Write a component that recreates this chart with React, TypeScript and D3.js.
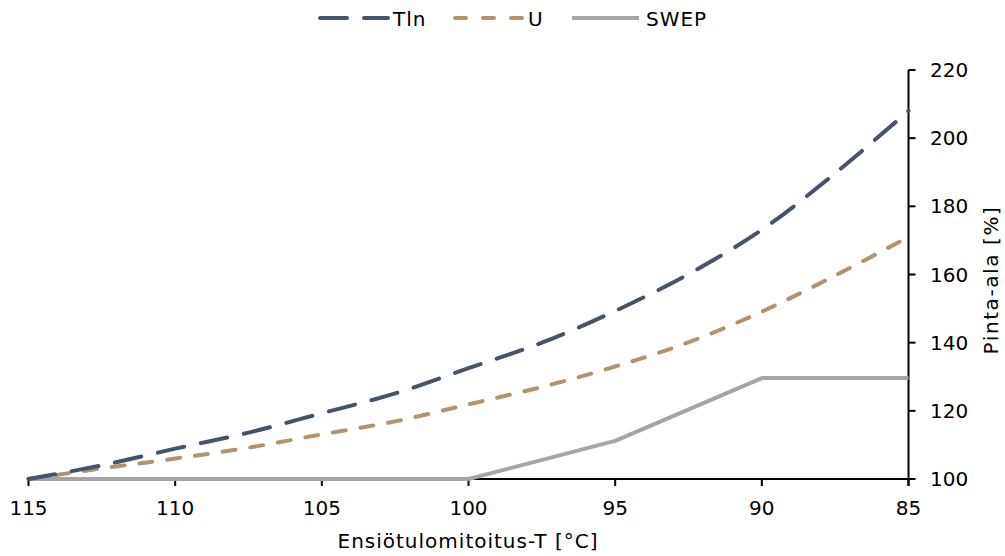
import React from "react";
import * as d3 from "d3";

const temps = [115, 112.5, 110, 107.5, 105, 102.5, 100, 97.5, 95, 92.5, 90, 87.5, 85];
const tlnValues = [100, 104.0, 108.9, 113.6, 119.3, 125.1, 132.5, 140.0, 149.3, 160.1, 173.1, 189.7, 208.0];
const uValues = [100, 103.1, 106.0, 109.2, 113.1, 116.9, 121.9, 127.0, 133.0, 140.1, 149.1, 159.7, 171.0];
const swepTemps = [115, 100, 95, 90, 85];
const swepValues = [100, 100, 111.2, 129.6, 129.6];
const xTicks = [115, 110, 105, 100, 95, 90, 85];
const yTicks = [100, 120, 140, 160, 180, 200, 220];

const FONT = "DejaVu Sans, Verdana, sans-serif";

export default function App() {
  const x = d3.scaleLinear().domain([115, 85]).range([28.5, 908.5]);
  const y = d3.scaleLinear().domain([100, 220]).range([479, 70]);

  const smooth = d3
    .line<[number, number]>()
    .x((d) => x(d[0]))
    .y((d) => y(d[1]))
    .curve(d3.curveCatmullRom.alpha(0.5));
  const straight = d3
    .line<[number, number]>()
    .x((d) => x(d[0]))
    .y((d) => y(d[1]));

  const tln = temps.map((t, i) => [t, tlnValues[i]] as [number, number]);
  const u = temps.map((t, i) => [t, uValues[i]] as [number, number]);
  const swep = swepTemps.map((t, i) => [t, swepValues[i]] as [number, number]);

  const cTln = "#44546A";
  const cU = "#B3926F";
  const cSwep = "#A5A5A5";

  return (
    <svg
      width={1005}
      height={556}
      style={{ position: "absolute", left: 0, top: 0, background: "#fff" }}
      fontFamily={FONT}
    >
      <rect x={0} y={0} width={1005} height={556} fill="#fff" />
      {/* axes */}
      <line x1={x(115)} x2={x(85)} y1={y(100)} y2={y(100)} stroke="#000" strokeWidth={2} />
      <line x1={x(85)} x2={x(85)} y1={y(220)} y2={y(100) + 7} stroke="#000" strokeWidth={2} />
      {xTicks.map((t) => (
        <g key={"xt" + t}>
          <line x1={x(t)} x2={x(t)} y1={y(100)} y2={y(100) + 7} stroke="#000" strokeWidth={2} />
          <text x={x(t)} y={515} textAnchor="middle" fontSize={20} fill="#000">
            {t}
          </text>
        </g>
      ))}
      {yTicks.map((v) => (
        <g key={"yt" + v}>
          <line x1={x(85)} x2={x(85) + 7} y1={y(v)} y2={y(v)} stroke="#000" strokeWidth={2} />
          <text x={930} y={y(v) + 7} textAnchor="start" fontSize={20} fill="#000">
            {v}
          </text>
        </g>
      ))}
      {/* series */}
      <path
        d={straight(swep) || ""}
        fill="none"
        stroke={cSwep}
        strokeWidth={4}
        strokeLinejoin="round"
      />
      <path
        d={smooth(u) || ""}
        fill="none"
        stroke={cU}
        strokeWidth={4}
        strokeDasharray="13,15"
        strokeLinecap="round"
      />
      <path
        d={smooth(tln) || ""}
        fill="none"
        stroke={cTln}
        strokeWidth={4}
        strokeDasharray="27,17"
        strokeLinecap="round"
      />
      {/* axis titles */}
      <text x={468} y={548} textAnchor="middle" fontSize={20} letterSpacing={1} fill="#000">
        Ensiötulomitoitus-T [°C]
      </text>
      <text
        transform={`translate(998,280) rotate(-90)`}
        textAnchor="middle"
        fontSize={20}
        letterSpacing={1.6}
        fill="#000"
      >
        Pinta-ala [%]
      </text>
      {/* legend */}
      <g>
        <line x1={320} x2={388} y1={18} y2={18} stroke={cTln} strokeWidth={4} strokeDasharray="27,17" strokeLinecap="round" />
        <text x={393} y={26} fontSize={20} letterSpacing={1} fill="#000">Tln</text>
        <line x1={455} x2={522} y1={18} y2={18} stroke={cU} strokeWidth={4} strokeDasharray="11,17" strokeLinecap="round" />
        <text x={528} y={26} fontSize={20} letterSpacing={1} fill="#000">U</text>
        <line x1={572} x2={639} y1={18} y2={18} stroke={cSwep} strokeWidth={4} />
        <text x={646} y={26} fontSize={20} letterSpacing={1} fill="#000">SWEP</text>
      </g>
    </svg>
  );
}
